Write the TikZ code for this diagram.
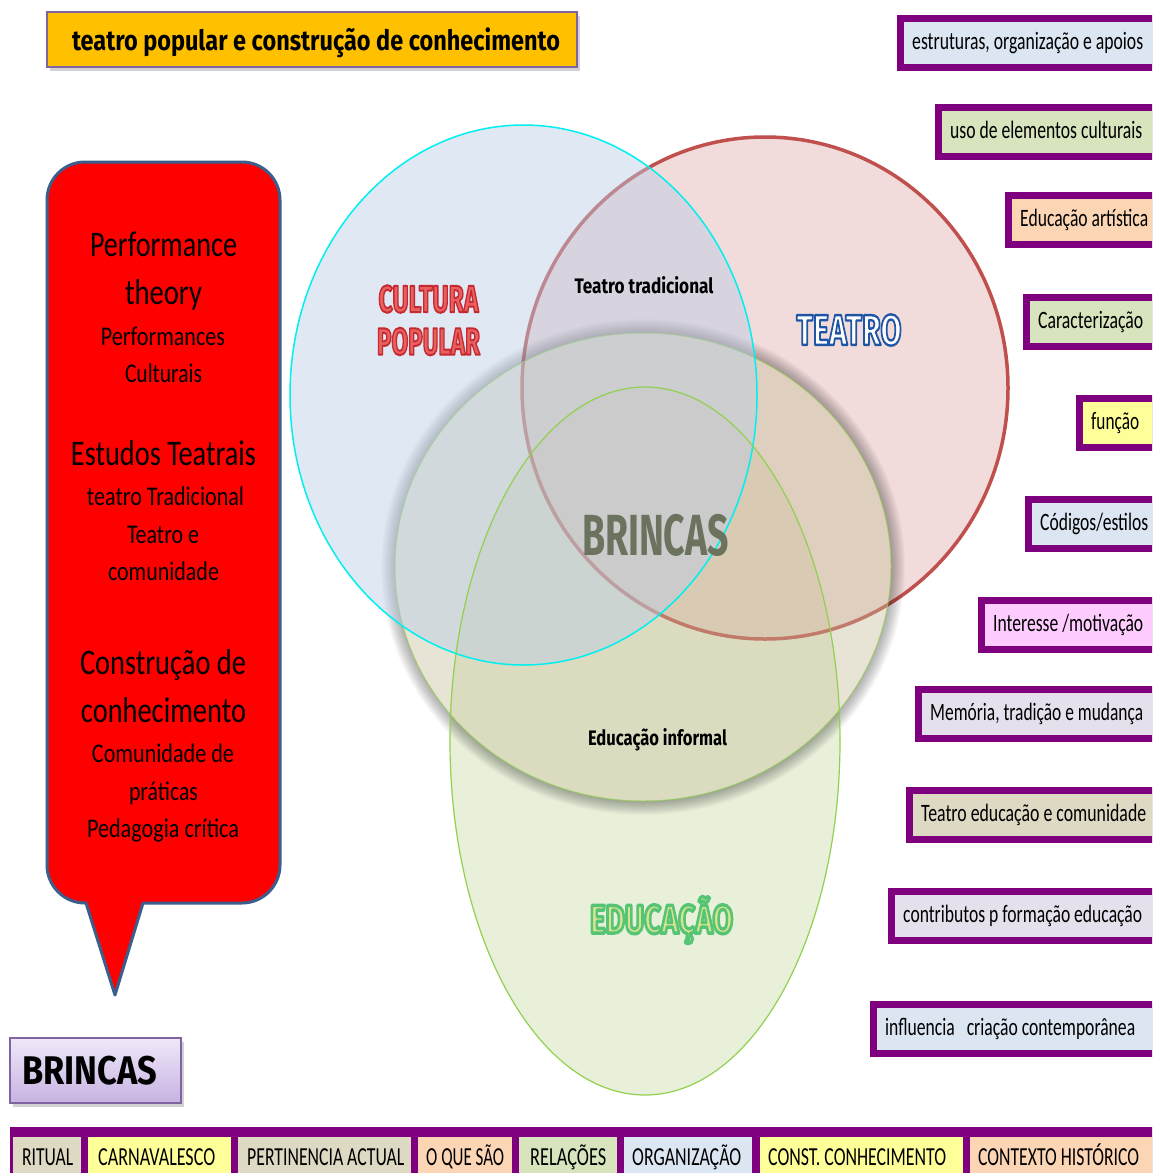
\documentclass[tikz,border=0pt]{standalone}
\usepackage{fontspec}
\usepackage{graphicx}
\setmainfont{Carlito}
\newfontfamily\cali{Carlito}
\newfontfamily\comic{Fira Sans}
\usetikzlibrary{calc,shadows}
\newcommand\fitw[2]{\resizebox{#1pt}{\height}{#2}}
\definecolor{purp}{HTML}{7F007F}
\definecolor{titlefill}{HTML}{FFC000}
\definecolor{boxline}{HTML}{8064A2}
\definecolor{lblue}{HTML}{DCE6F2}
\definecolor{lgreen}{HTML}{D7E4BD}
\definecolor{peach}{HTML}{FCD5B5}
\definecolor{yell}{HTML}{FFFF99}
\definecolor{lpink}{HTML}{FFCCFF}
\definecolor{lav}{HTML}{E6E0EC}
\definecolor{tan}{HTML}{DDD9C3}
\definecolor{callline}{HTML}{3B5E8C}
\definecolor{educf}{HTML}{D7E4BD}
\definecolor{edline}{HTML}{92D050}
\definecolor{teaf}{HTML}{E6B9B8}
\definecolor{tealine}{HTML}{C0504D}
\definecolor{brf}{HTML}{C4BD97}
\definecolor{cpf}{HTML}{B9CDE5}
\definecolor{cpline}{HTML}{00F0F0}
\definecolor{brtext}{HTML}{6B735F}
\definecolor{cultin}{HTML}{E86060}
\definecolor{eduin}{HTML}{D9E28E}
\definecolor{lavtop}{HTML}{EFE8F8}
\definecolor{lavbot}{HTML}{C6B2E2}

% outlined text: stroke width, stroke rgb, fill colour, text
\newcommand\olt[4]{{\color{#3}\special{pdf:literal direct 2 Tr #1 w 1 j #2 RG}#4\special{pdf:literal direct 0 Tr}}}

\tikzset{
  calbig/.style={font=\cali\fontsize{36}{36}\selectfont, inner sep=0, anchor=base, text=black},
  calmed/.style={font=\cali\fontsize{27}{27}\selectfont, inner sep=0, anchor=base, text=black},
  rtext/.style={font=\cali\fontsize{25}{25}\selectfont, inner sep=0, anchor=base west, text=black},
  btext/.style={font=\cali\fontsize{26}{26}\selectfont, inner sep=0, anchor=base west, text=black},
  comicb/.style={font=\comic\bfseries, inner sep=0, text=black},
  wordart/.style={inner sep=0},
}

\newcommand\rbox[6]{%
  \fill[purp] (#2,#3) rectangle (1160,#3+56);
  \fill[#4] (#2+7,#3+7) rectangle (1160,#3+49);
  \node[rtext] (#1) at (#2+15,#3+34) {\fitw{#5}{#6}};}

\newcommand\bcell[7]{%
  \fill[#4] (#2,1137) rectangle (#3,1180);
  \node[btext] (#1) at (#5,1165) {\fitw{#6}{#7}};}

\begin{document}
\begin{tikzpicture}[x=1pt,y=-1pt]
\useasboundingbox (0,0) rectangle (1152,1173);
\clip (0,0) rectangle (1152,1173);
\fill[white] (0,0) rectangle (1152,1173);

% ---------- Venn ----------
\fill[educf, fill opacity=.55] (645,741) ellipse [x radius=195pt, y radius=354pt];
\filldraw[fill=teaf, fill opacity=.5, draw=tealine, line width=3.5pt] (765,388) ellipse [x radius=243pt, y radius=251pt];
\foreach \k in {1,...,14}{%
  \pgfmathsetmacro\rx{248+\k}\pgfmathsetmacro\ry{234+\k}
  \fill[black, opacity=.025, even odd rule] (643,567) ellipse [x radius=\rx pt, y radius=\ry pt] (643,567) ellipse [x radius=248pt, y radius=234pt];}
\fill[brf, fill opacity=.4] (643,567) ellipse [x radius=248pt, y radius=234pt];
\draw[edline, opacity=.7, line width=1pt] (643,567) ellipse [x radius=248pt, y radius=234pt];
\filldraw[fill=cpf, fill opacity=.45, draw=cpline, line width=1.5pt] (523.5,395) ellipse [x radius=233.5pt, y radius=270pt];
\draw[edline, line width=1.2pt] (645,741) ellipse [x radius=195pt, y radius=354pt];

% labels in Venn
\node[wordart] (cult1) at (428.5,299) {\fitw{100}{\comic\bfseries\fontsize{38}{38}\selectfont\olt{2}{0.776 0.165 0.188}{cultin}{CULTURA}}};
\node[wordart] (cult2) at (428.5,341.5) {\fitw{103}{\comic\bfseries\fontsize{38}{38}\selectfont\olt{2}{0.776 0.165 0.188}{cultin}{POPULAR}}};
\node[comicb, anchor=base] (trad) at (644,293) {\fitw{139}{\fontsize{21}{21}\selectfont Teatro tradicional}};
\node[wordart] (teatro) at (849,330) {\fitw{105}{\comic\bfseries\fontsize{43}{43}\selectfont\olt{2.4}{0.122 0.333 0.647}{white}{TEATRO}}};
\node[text=brtext, inner sep=0] (brincas) at (655.5,535) {\fitw{147}{\comic\bfseries\fontsize{58}{58}\selectfont BRINCAS}};
\node[comicb, anchor=base] (einf) at (657.5,745) {\fitw{139}{\fontsize{21}{21}\selectfont Educação informal}};
\node[wordart] (educ) at (661.5,920) {\fitw{143}{\comic\bfseries\fontsize{40}{40}\selectfont\olt{3.4}{0.333 0.769 0.455}{eduin}{EDUCAÇÃO}}};

% ---------- title ----------
\node[draw=boxline, fill=titlefill, line width=1.2pt, minimum width=530pt, minimum height=55pt, inner sep=0,
      drop shadow={opacity=.35, shadow xshift=3pt, shadow yshift=-4pt}] (titlebox) at (312,39.5) {};
\node[comicb, anchor=base] (title) at (316,50) {\fitw{488}{\fontsize{28}{28}\selectfont teatro popular e construção de conhecimento}};

% ---------- callout ----------
\filldraw[fill=red, draw=callline, line width=3pt, line join=round]
  (115,995) -- (86,903) -- (85,903) .. controls (64,903) and (47,886) .. (47,865)
  -- (47,200) .. controls (47,179) and (64,162) .. (85,162)
  -- (242,162) .. controls (263,162) and (280,179) .. (280,200)
  -- (280,865) .. controls (280,886) and (263,903) .. (242,903)
  -- (143,903) -- cycle;
\node[calbig] (c1) at (163.5,256) {\fitw{147}{Performance}};
\node[calbig] (c2) at (163.5,304) {\fitw{77}{theory}};
\node[calmed] (c3) at (163,345) {\fitw{124}{Performances}};
\node[calmed] (c4) at (163.5,382) {\fitw{77}{Culturais}};
\node[calbig] (c5) at (163.5,465) {\fitw{185}{Estudos Teatrais}};
\node[calmed] (c6) at (165.5,505) {\fitw{157}{teatro Tradicional}};
\node[calmed] (c7) at (163,543) {\fitw{72}{Teatro e}};
\node[calmed] (c8) at (163.5,580) {\fitw{111}{comunidade}};
\node[calbig] (c9) at (163,674) {\fitw{166}{Construção de}};
\node[calbig] (c10) at (163.5,722) {\fitw{165}{conhecimento}};
\node[calmed] (c11) at (163,762) {\fitw{142}{Comunidade de}};
\node[calmed] (c12) at (163.5,800) {\fitw{69}{práticas}};
\node[calmed] (c13) at (163,837) {\fitw{152}{Pedagogia crítica}};

% ---------- right boxes ----------
\rbox{r1}{897}{15}{lblue}{231}{estruturas, organização e apoios}
\rbox{r2}{935}{104}{lgreen}{192}{uso de elementos culturais}
\rbox{r3}{1005}{192}{peach}{128}{Educação artística}
\rbox{r4}{1023}{294}{lgreen}{105}{Caracterização}
\rbox{r5}{1076}{395}{yell}{48}{função}
\rbox{r6}{1025}{496}{lblue}{108}{Códigos/estilos}
\rbox{r7}{978}{597}{lpink}{150}{Interesse /motivação}
\rbox{r8}{915}{686}{lav}{213}{Memória, tradição e mudança}
\rbox{r9}{906}{787}{tan}{225}{Teatro educação e comunidade}
\rbox{r10}{888}{888}{lav}{239}{contributos p formação educação}
\rbox{r11}{870}{1001}{lblue}{250}{influencia\ \ \ criação contemporânea}

% ---------- BRINCAS box ----------
\node[draw=boxline, top color=lavtop, bottom color=lavbot, minimum width=171pt, minimum height=65pt, inner sep=0, line width=1.2pt,
      drop shadow={opacity=.35, shadow xshift=3pt, shadow yshift=-4pt}] (brbox) at (95.5,1070.5) {};
\node[comicb] (brtxt) at (89.5,1071) {\fitw{135}{\fontsize{40}{40}\selectfont BRINCAS}};

% ---------- bottom bar ----------
\fill[purp] (10,1127) rectangle (1160,1180);
\bcell{b1}{13}{81}{tan}{22}{51}{RITUAL}
\bcell{b2}{88}{231}{yell}{98}{117}{CARNAVALESCO}
\bcell{b3}{238}{411}{tan}{247}{157}{PERTINENCIA ACTUAL}
\bcell{b4}{418}{512}{peach}{426}{78}{O QUE SÃO}
\bcell{b5}{519}{617}{lgreen}{530}{76}{RELAÇÕES}
\bcell{b6}{624}{752}{lblue}{632}{109}{ORGANIZAÇÃO}
\bcell{b7}{760}{963}{yell}{768}{178}{CONST. CONHECIMENTO}
\bcell{b8}{970}{1160}{peach}{978}{161}{CONTEXTO HISTÓRICO}
\end{tikzpicture}
\end{document}
